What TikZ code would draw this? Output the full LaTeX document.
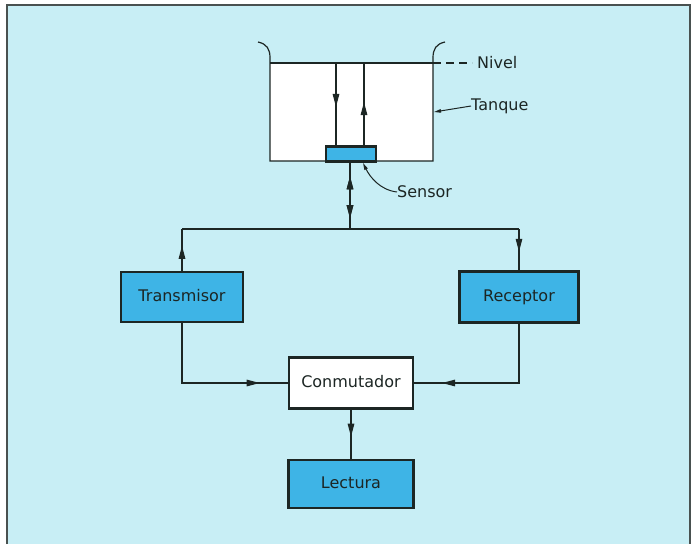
\documentclass[tikz,border=0pt]{standalone}
\usepackage{fontspec}
\setmainfont{DejaVu Sans}
\usetikzlibrary{arrows.meta, decorations.markings}

\definecolor{bgcyan}{RGB}{200,238,245}
\definecolor{boxblue}{RGB}{62,180,230}
\definecolor{ink}{RGB}{28,38,36}

\tikzset{
  block/.style={draw=ink, line width=2.2pt, fill=boxblue, text=ink,
    font=\fontsize{16}{19}\selectfont, inner sep=0pt, text height=12pt, text depth=3pt},
  label/.style={text=ink, font=\fontsize{16}{19}\selectfont, inner sep=0pt, anchor=west},
  wire/.style={draw=ink, line width=1.2pt},
  tip/.style={decoration={markings, mark=at position #1 with
    {\arrow{Triangle[length=13pt,width=6.5pt]}}}, postaction={decorate}},
  revtip/.style={decoration={markings, mark=at position #1 with
    {\arrowreversed{Triangle[length=13pt,width=6.5pt]}}}, postaction={decorate}},
}

\begin{document}
\begin{tikzpicture}[x=1pt, y=-1pt]
    \useasboundingbox (0,0) rectangle (693,544);
    % background and frame
    \fill[bgcyan] (7,5) rectangle (690,544);
    \draw[ink!80, line width=1.6pt] (7,544) -- (7,5) -- (690,5) -- (690,544);

    % tank
    \fill[white] (270,63) rectangle (433,161);
    \draw[wire] (258,42) .. controls (267,44) and (270,49) .. (270,58) -- (270,161)
        -- (433,161) -- (433,58) .. controls (433,49) and (436,44) .. (445,42);
    \draw[wire] (270,63) -- (433,63);
    \draw[wire, dash pattern=on 8pt off 5pt] (433,63) -- (472,63);
    \draw[wire, tip=0.53] (336,63) -- (336,146);
    \draw[wire, revtip=0.47] (364,63) -- (364,146);

    \node[block, minimum width=50pt, minimum height=15pt, text height=0pt, text depth=0pt] (sensor) at (351,154) {};
    \node[label] (nivel) at (477,63) {Nivel};
    \node[label] (tanque) at (471,106) {Tanque};
    \node[label] (sens) at (397,192) {Sensor};
    \coordinate (wall) at (434,112);
    \coordinate (sbot) at (363,163);
    \draw[wire, line width=1pt, -{Triangle[length=7pt,width=3.5pt]}] (tanque.west) -- (wall);
    \draw[wire, line width=1pt, -{Triangle[length=7pt,width=3.5pt]}]
        (sens.west) .. controls (380,190) and (370,177) .. (sbot);

    % blocks
    \node[block, minimum width=122pt, minimum height=50pt] (tx) at (182,297) {Transmisor};
    \node[block, minimum width=119pt, minimum height=51pt] (rx) at (519,297) {Receptor};
    \node[block, fill=white, minimum width=124pt, minimum height=51pt] (sw) at (351,383) {Conmutador};
    \node[block, minimum width=125pt, minimum height=48pt] (rd) at (351,484) {Lectura};

    % connections
    \coordinate (jn) at (350,229);
    \draw[wire, revtip=0.22, tip=0.84] (350,161.5) -- (jn);
    \draw[wire, tip=0.6] (tx.north) -- (tx.north |- jn);
    \draw[wire] (tx.north |- jn) -- (rx.north |- jn);
    \draw[wire, tip=0.55] (rx.north |- jn) -- (rx.north);
    \draw[wire, tip=0.83] (tx.south) |- (sw.west);
    \draw[wire, tip=0.83] (rx.south) |- (sw.east);
    \draw[wire, tip=0.55] (sw.south) -- (rd.north);
\end{tikzpicture}
\end{document}
